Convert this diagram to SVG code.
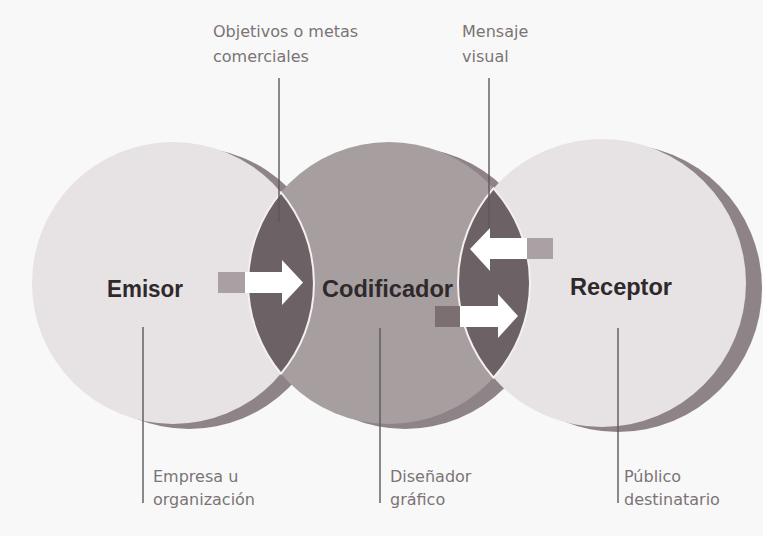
<svg xmlns="http://www.w3.org/2000/svg" width="763" height="536" viewBox="0 0 763 536">
  <style>
    .light { fill: #e7e2e3; }
    .mid { fill: #a79ea0; }
    .shadow { fill: #8e8487; }
    .lens { fill: #6c6165; stroke: #f4f0f1; stroke-width: 2; }
    .title { font-family: "Liberation Sans", Arial, sans-serif; font-weight: bold; font-size: 23px; fill: #2e292b; }
    .note { font-family: "DejaVu Sans", "Open Sans", sans-serif; font-size: 16px; fill: #7a7476; }
    .leader { stroke: #5e5759; stroke-width: 1.4; fill: none; }
    .arrow { fill: #ffffff; }
  </style>
  <rect x="0" y="0" width="763" height="536" fill="#f9f8f8"/>

  <g id="emisor">
    <circle class="shadow" cx="189" cy="288" r="141"/>
    <circle class="light" cx="173" cy="283" r="141"/>
    <text class="title" x="107" y="297" textLength="76" lengthAdjust="spacingAndGlyphs">Emisor</text>
  </g>

  <g id="codificador">
    <circle class="shadow" cx="405" cy="288" r="141"/>
    <circle class="mid" cx="389" cy="283" r="141"/>
  </g>

  <g id="receptor">
    <circle class="shadow" cx="618" cy="288" r="144"/>
    <circle class="light" cx="602" cy="283" r="144"/>
    <text class="title" x="570" y="295" textLength="102" lengthAdjust="spacingAndGlyphs">Receptor</text>
  </g>

  <g id="lens-emisor-codificador">
    <path class="lens" d="M281 192.4 A141 141 0 0 1 281 373.6 A141 141 0 0 1 281 192.4 Z"/>
  </g>

  <g id="lens-codificador-receptor">
    <path class="lens" d="M493.5 188.3 A141 141 0 0 1 493.5 377.7 A144 144 0 0 1 493.5 188.3 Z"/>
  </g>

  <g id="codificador-label">
    <text class="title" x="322" y="297" textLength="131" lengthAdjust="spacingAndGlyphs">Codificador</text>
  </g>

  <g id="connectors">
    <line class="leader" x1="279" y1="78" x2="279" y2="222"/>
    <line class="leader" x1="489" y1="78" x2="489" y2="232"/>
    <line class="leader" x1="143" y1="327" x2="143" y2="503"/>
    <line class="leader" x1="380" y1="328" x2="380" y2="503"/>
    <line class="leader" x1="618" y1="328" x2="618" y2="503"/>

    <rect x="218" y="272" width="27" height="21" fill="#aaa0a3"/>
    <polygon class="arrow" points="245,272 282,272 282,260 303,282.5 282,305 282,293 245,293"/>

    <rect x="527" y="238" width="26" height="21" fill="#aaa1a4"/>
    <polygon class="arrow" points="527,238 490,238 490,228 470,249 490,271 490,259 527,259"/>

    <rect x="435" y="306" width="25" height="21" fill="#7b6f72"/>
    <polygon class="arrow" points="460,306 498,306 498,294 518,316 498,338 498,327 460,327"/>
  </g>

  <g id="label-objetivos">
    <text class="note" x="213" y="37">Objetivos o metas</text>
    <text class="note" x="213" y="62">comerciales</text>
  </g>
  <g id="label-mensaje">
    <text class="note" x="462" y="37">Mensaje</text>
    <text class="note" x="462" y="62">visual</text>
  </g>
  <g id="label-empresa">
    <text class="note" x="153" y="482">Empresa u</text>
    <text class="note" x="153" y="505">organización</text>
  </g>
  <g id="label-disenador">
    <text class="note" x="390" y="482">Diseñador</text>
    <text class="note" x="390" y="505">gráfico</text>
  </g>
  <g id="label-publico">
    <text class="note" x="624" y="482">Público</text>
    <text class="note" x="624" y="505">destinatario</text>
  </g>
</svg>
